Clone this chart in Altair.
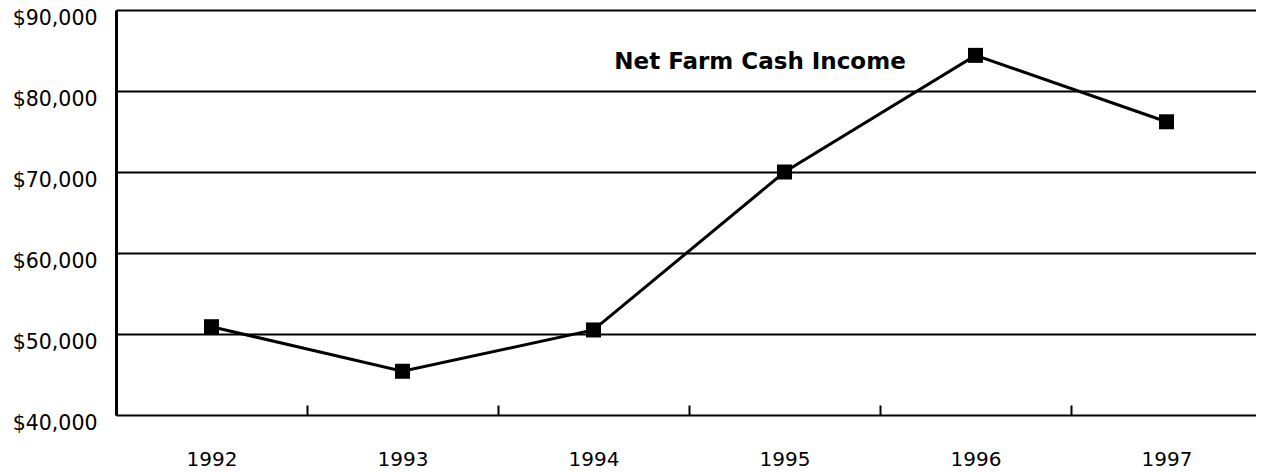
import altair as alt
import pandas as pd

years = ["1992", "1993", "1994", "1995", "1996", "1997"]
income = [50900, 45400, 50500, 70000, 84400, 76200]
y_ticks = [40000, 50000, 60000, 70000, 80000, 90000]
title_text = "Net Farm Cash Income"

df = pd.DataFrame({"year": years, "income": income})

FONT = "DejaVu Sans"

x_enc = alt.X(
    "year:N",
    sort=None,
    scale=alt.Scale(type="band", paddingInner=0, paddingOuter=0),
    axis=alt.Axis(
        title=None,
        domain=False,
        grid=False,
        ticks=True,
        tickBand="extent",
        tickSize=10,
        tickWidth=2,
        tickColor="black",
        offset=-10,
        labelPadding=34,
        labelFont=FONT,
        labelFontSize=20,
        labelColor="black",
        labelAngle=0,
    ),
)
y_enc = alt.Y(
    "income:Q",
    scale=alt.Scale(domain=[40000, 90000], nice=False, zero=False),
    axis=alt.Axis(
        title=None,
        values=y_ticks,
        format="$,.0f",
        ticks=False,
        grid=True,
        gridColor="black",
        gridWidth=2,
        gridOpacity=1,
        domain=True,
        domainColor="black",
        domainWidth=3,
        labelPadding=19,
        labelOffset=8.6,
        labelFont=FONT,
        labelFontSize=20.5,
        labelColor="black",
    ),
)

base = alt.Chart(df)
line = base.mark_line(color="black", strokeWidth=3).encode(x=x_enc, y=y_enc)
pts = base.mark_point(shape="square", filled=True, color="black", opacity=1, size=225).encode(
    x=x_enc, y=y_enc
)

chart = (
    alt.layer(line, pts)
    .properties(
        width=1146,
        height=405,
        autosize=alt.AutoSizeParams(type="none"),
        padding={"left": 108, "top": 2, "right": -6, "bottom": 55},
        title=alt.TitleParams(
            text=title_text,
            font=FONT,
            fontSize=23,
            fontWeight="bold",
            color="black",
            anchor="middle",
            frame="group",
            baseline="middle",
            offset=0,
            dx=71,
            dy=76,
        ),
        background="white",
    )
    .configure_view(stroke=None)
)

chart.save("out.html", embed_options={"renderer": "svg", "actions": False})
